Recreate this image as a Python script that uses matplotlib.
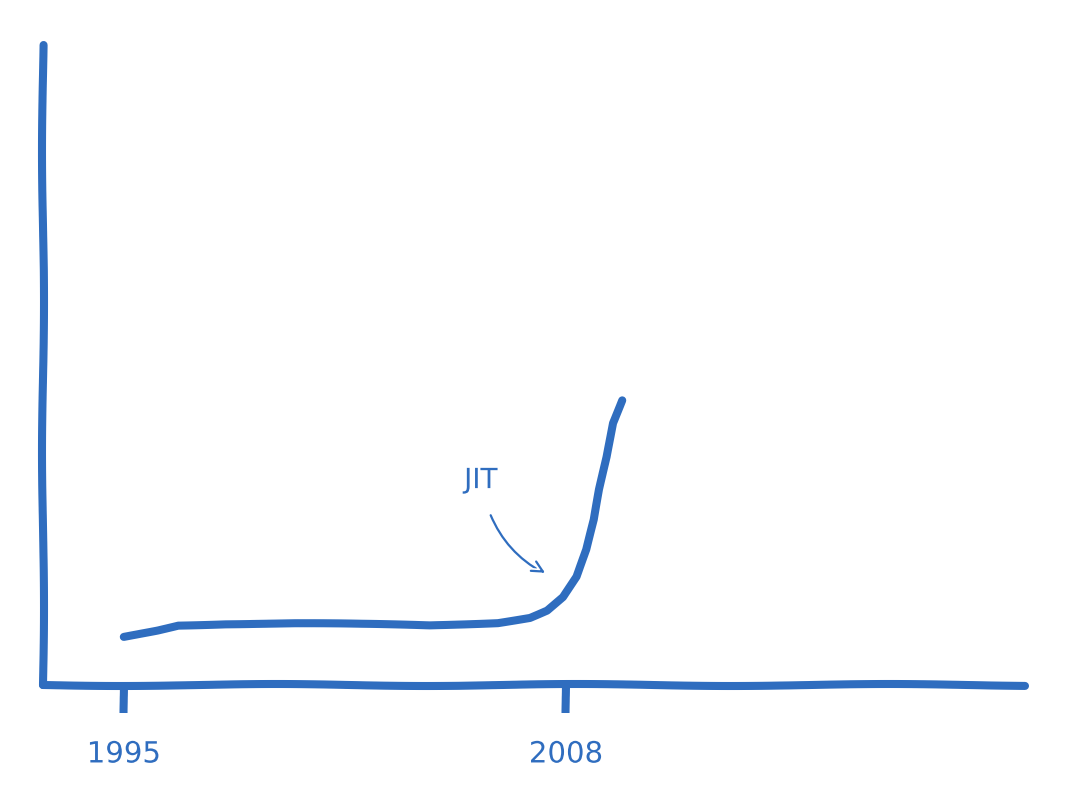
import numpy as np
import matplotlib
matplotlib.use("Agg")
import matplotlib.pyplot as plt

# values
years = [1995.0, 1996.0, 1996.6, 1998.0, 2000.0, 2002.0, 2004.0, 2006.0, 2006.94,
         2007.44, 2007.91, 2008.32, 2008.62, 2008.85, 2009.0, 2009.21, 2009.38, 2009.64]
level = [7.5, 8.6, 9.4, 9.6, 9.6, 9.4, 9.3, 9.8, 10.6,
         11.7, 13.75, 16.9, 21.1, 25.8, 30.5, 35.6, 40.9, 44.5]
tick_years = [1995, 2008]
tick_labels = ["1995", "2008"]

blue = "#2f6dbf"

with plt.xkcd(scale=1, length=320, randomness=1.5):
    plt.rcParams['font.family'] = ['Liberation Sans Narrow', 'DejaVu Sans']
    fig = plt.figure(figsize=(10.72, 8.02), dpi=100)
    ax = fig.add_axes([0.040, 0.146, 0.916, 0.798])

    ax.plot(years, level, color=blue, lw=5.8, solid_capstyle='round',
            solid_joinstyle='round')

    ax.set_xlim(1992.62, 2021.5)
    ax.set_ylim(0, 100)

    for side in ['top', 'right']:
        ax.spines[side].set_visible(False)
    for side in ['left', 'bottom']:
        ax.spines[side].set_color(blue)
        ax.spines[side].set_linewidth(5.8)
        ax.spines[side].set_capstyle('round')

    ax.set_yticks([])
    ax.set_xticks(tick_years)
    ax.set_xticklabels(tick_labels, color=blue, fontsize=21)
    ax.tick_params(axis='x', direction='out', length=20, width=5.8,
                   color=blue, pad=20)

    ax.annotate("JIT", xy=(2007.4, 17.5), xytext=(2005.5, 32),
                color=blue, fontsize=20, ha='center', va='center',
                arrowprops=dict(arrowstyle='->', color=blue, lw=1.6,
                                shrinkA=14, shrinkB=0,
                                connectionstyle='arc3,rad=0.25'))

    fig.savefig("out.png", dpi=100, facecolor='white')
